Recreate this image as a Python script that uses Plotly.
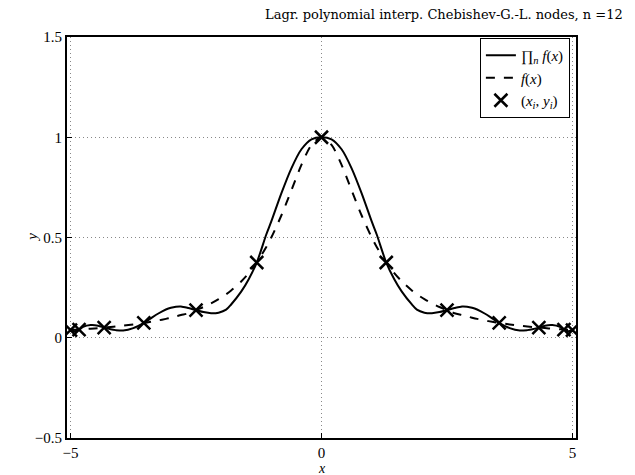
import plotly.graph_objects as go

# Curve samples
x_curve = [-5.0, -4.92, -4.83, -4.75, -4.6, -4.45, -4.33, -4.2, -4.1, -3.95, -3.75, -3.54,
           -3.4, -3.25, -3.1, -3.0, -2.9, -2.8, -2.65, -2.5, -2.35, -2.2, -2.05, -1.9,
           -1.8, -1.6, -1.45, -1.29, -1.1, -1.0, -0.8, -0.6, -0.4, -0.2, 0.0,
           0.2, 0.4, 0.6, 0.8, 1.0, 1.1, 1.29, 1.45, 1.6, 1.8, 1.9, 2.05, 2.2, 2.35,
           2.5, 2.65, 2.8, 2.9, 3.0, 3.1, 3.25, 3.4, 3.54, 3.75, 3.95, 4.1, 4.2, 4.33,
           4.45, 4.6, 4.75, 4.83, 4.92, 5.0]

# interpolating polynomial (solid)
y_interp = [0.0385, 0.033, 0.0411, 0.054, 0.063, 0.060, 0.0506, 0.042, 0.038, 0.036, 0.048, 0.074,
            0.097, 0.121, 0.141, 0.150, 0.155, 0.156, 0.148, 0.138, 0.128, 0.122, 0.125, 0.140,
            0.166, 0.230, 0.292, 0.375, 0.515, 0.580, 0.720, 0.845, 0.940, 0.990, 1.0,
            0.990, 0.940, 0.845, 0.720, 0.580, 0.515, 0.375, 0.292, 0.230, 0.166, 0.140, 0.125, 0.122, 0.128,
            0.138, 0.148, 0.156, 0.155, 0.150, 0.141, 0.121, 0.097, 0.074, 0.048, 0.036, 0.038, 0.042, 0.0506,
            0.060, 0.063, 0.054, 0.0411, 0.033, 0.0385]

# function f(x) (dashed)
y_func = [0.0385, 0.0397, 0.0411, 0.0424, 0.0451, 0.0481, 0.0506, 0.0536, 0.0561, 0.0603, 0.0664, 0.0739,
          0.0796, 0.0865, 0.0942, 0.100, 0.1063, 0.1131, 0.1222, 0.1379, 0.1533, 0.1712, 0.1922, 0.2169,
          0.2358, 0.2809, 0.3223, 0.3753, 0.4525, 0.500, 0.6098, 0.7353, 0.8621, 0.9615, 1.0,
          0.9615, 0.8621, 0.7353, 0.6098, 0.500, 0.4525, 0.3753, 0.3223, 0.2809, 0.2358, 0.2169, 0.1922, 0.1712, 0.1533,
          0.1379, 0.1222, 0.1131, 0.1063, 0.100, 0.0942, 0.0865, 0.0796, 0.0739, 0.0664, 0.0603, 0.0561, 0.0536, 0.0506,
          0.0481, 0.0451, 0.0424, 0.0411, 0.0397, 0.0385]

# nodes
x_nodes = [-5.0, -4.83, -4.33, -3.54, -2.5, -1.29, 0.0, 1.29, 2.5, 3.54, 4.33, 4.83, 5.0]
y_nodes = [0.0385, 0.0411, 0.0506, 0.0739, 0.1379, 0.3753, 1.0, 0.3753, 0.1379, 0.0739, 0.0506, 0.0411, 0.0385]

x_ticks = [-5, 0, 5]
x_ticktext = ["\u22125", "0", "5"]
y_ticks = [-0.5, 0, 0.5, 1, 1.5]
y_ticktext = ["\u22120.5", "0", "0.5", "1", "1.5"]

title_text = "Lagr. polynomial interp. Chebishev-G.-L. nodes, n =12"

FONT = "Liberation Serif"

fig = go.Figure()
fig.add_trace(go.Scatter(
    x=x_curve, y=y_interp, mode="lines",
    line=dict(color="black", width=2, shape="spline", smoothing=0.8),
    name="\u220F<sub><i>n</i></sub> <i>f</i>(<i>x</i>)"))
fig.add_trace(go.Scatter(
    x=x_curve, y=y_func, mode="lines",
    line=dict(color="black", width=2, dash="dash", shape="spline", smoothing=0.8),
    name="<i>f</i>(<i>x</i>)"))
fig.add_trace(go.Scatter(
    x=x_nodes, y=y_nodes, mode="markers",
    marker=dict(symbol="x-thin", size=13, line=dict(color="black", width=2.5), color="black"),
    name="(<i>x<sub>i</sub></i>, <i>y<sub>i</sub></i>)"))

axis_common = dict(
    showline=True, mirror=True, linecolor="black", linewidth=2,
    ticks="inside", ticklen=5, tickcolor="black", automargin=False,
    showgrid=True, gridcolor="#888888", gridwidth=1, griddash="1px,3px",
    zeroline=False, tickfont=dict(family=FONT, size=15, color="black"),
)

# page body has an 8px margin, so the figure is drawn 8px in from the window corner
fig.update_layout(
    width=627, height=467,
    margin=dict(l=59, r=59, t=29, b=37, autoexpand=False),
    plot_bgcolor="white", paper_bgcolor="white",
    xaxis=dict(range=[-5.07, 5.07], tickvals=x_ticks, ticktext=x_ticktext, ticklabelstandoff=0, **axis_common),
    yaxis=dict(range=[-0.5, 1.5], tickvals=y_ticks, ticktext=y_ticktext, ticklabelstandoff=0, **axis_common),
    legend=dict(x=0.988, xanchor="right", y=0.9975, yanchor="top",
                bordercolor="black", borderwidth=1, bgcolor="white",
                font=dict(family=FONT, size=15, color="black"),
                tracegroupgap=0, itemwidth=30),
    showlegend=True,
    annotations=[
        dict(text=title_text, xref="paper", yref="paper", x=1.096, y=1.057,
             xanchor="right", yanchor="middle", showarrow=False,
             font=dict(family="DejaVu Serif", size=13, color="black")),
        dict(text="<i>x</i>", xref="paper", yref="paper", x=0.5, y=-0.075,
             xanchor="center", yanchor="middle", showarrow=False,
             font=dict(family=FONT, size=14, color="black")),
        dict(text="<i>y</i>", xref="paper", yref="paper", x=-0.07, y=0.5,
             xanchor="center", yanchor="middle", showarrow=False, textangle=-90,
             font=dict(family=FONT, size=15, color="black")),
    ],
)

fig.write_html("out.html")
